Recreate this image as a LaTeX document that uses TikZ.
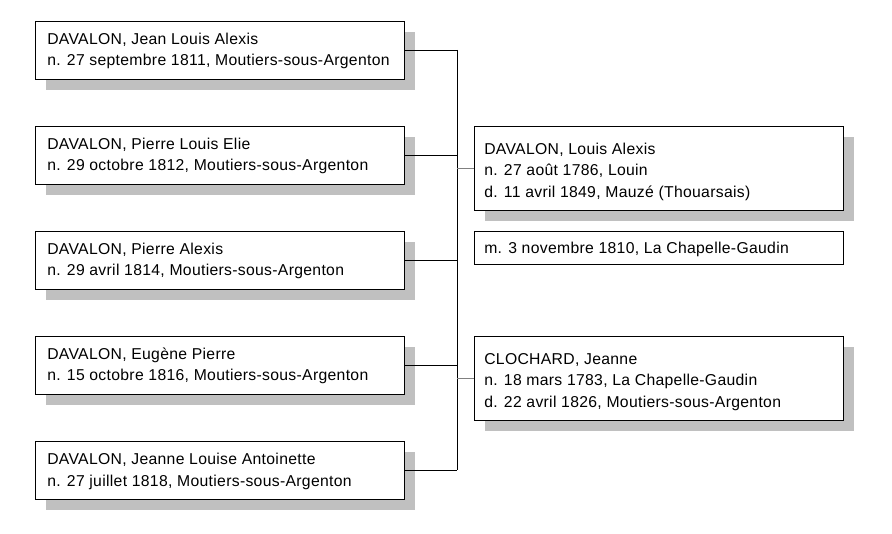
\documentclass[tikz,border=0pt]{standalone}
\usepackage{fontspec}
\setmainfont[LetterSpace=2.0]{Liberation Sans}
\usetikzlibrary{shadows}
\definecolor{shadowgray}{RGB}{192,192,192}
\definecolor{linkgray}{RGB}{128,128,128}
\tikzset{
  person/.style={draw=black, line width=0.9pt, fill=white, anchor=north west,
    minimum width=369*0.75pt, minimum height=58*0.75pt, inner sep=0pt,
    drop shadow={shadow xshift=7.5pt, shadow yshift=-7.5pt, fill=shadowgray, opacity=1}},
  tallperson/.style={person, minimum height=84*0.75pt},
  plainbox/.style={draw=black, line width=0.9pt, fill=white, anchor=north west,
    minimum width=369*0.75pt, minimum height=33*0.75pt, inner sep=0pt},
  txt/.style={anchor=base west, inner sep=0pt, font=\fontsize{11.8pt}{14pt}\selectfont},
  link/.style={draw=black, line width=0.75pt},
  graylink/.style={draw=linkgray, line width=0.75pt}
}
\begin{document}
\begin{tikzpicture}[x=0.75pt,y=-0.75pt]
\useasboundingbox (0,0) rectangle (892,534);
% children
\node[person] (c1) at (35,21) {};
\node[person] (c2) at (35,126) {};
\node[person] (c3) at (35,231) {};
\node[person] (c4) at (35,336) {};
\node[person] (c5) at (35,441) {};
\node[txt] (c1a) at (47,44.3) {DAVALON, Jean Louis Alexis};
\node[txt] (c1b) at (47,66) {n. 27 septembre 1811, Moutiers-sous-Argenton};
\node[txt] (c2a) at (47,149.3) {DAVALON, Pierre Louis Elie};
\node[txt] (c2b) at (47,171) {n. 29 octobre 1812, Moutiers-sous-Argenton};
\node[txt] (c3a) at (47,254.3) {DAVALON, Pierre Alexis};
\node[txt] (c3b) at (47,276) {n. 29 avril 1814, Moutiers-sous-Argenton};
\node[txt] (c4a) at (47,359.3) {DAVALON, Eugène Pierre};
\node[txt] (c4b) at (47,381) {n. 15 octobre 1816, Moutiers-sous-Argenton};
\node[txt] (c5a) at (47,464.3) {DAVALON, Jeanne Louise Antoinette};
\node[txt] (c5b) at (47,486) {n. 27 juillet 1818, Moutiers-sous-Argenton};
% parents
\node[tallperson] (pa) at (474,126) {};
\node[plainbox] (mar) at (474,231) {};
\node[tallperson] (pb) at (474,336) {};
\node[txt] (paa) at (484,154.3) {DAVALON, Louis Alexis};
\node[txt] (pab) at (484,176) {n. 27 août 1786, Louin};
\node[txt] (pac) at (484,197.7) {d. 11 avril 1849, Mauzé (Thouarsais)};
\node[txt] (mara) at (484,253.8) {m. 3 novembre 1810, La Chapelle-Gaudin};
\node[txt] (pba) at (484,364.3) {CLOCHARD, Jeanne};
\node[txt] (pbb) at (484,386) {n. 18 mars 1783, La Chapelle-Gaudin};
\node[txt] (pbc) at (484,407.7) {d. 22 avril 1826, Moutiers-sous-Argenton};
% connectors
\coordinate (bt) at (457,50);
\coordinate (bb) at (457,470);
\draw[link] (bt) -- (bb);
\foreach \c in {c1,c2,c3,c4,c5}{
  \draw[link] (\c.east) -- (\c.east -| bt);
}
\draw[graylink] (bt |- pa.west) -- (pa.west);
\draw[graylink] (bt |- pb.west) -- (pb.west);
\end{tikzpicture}
\end{document}
